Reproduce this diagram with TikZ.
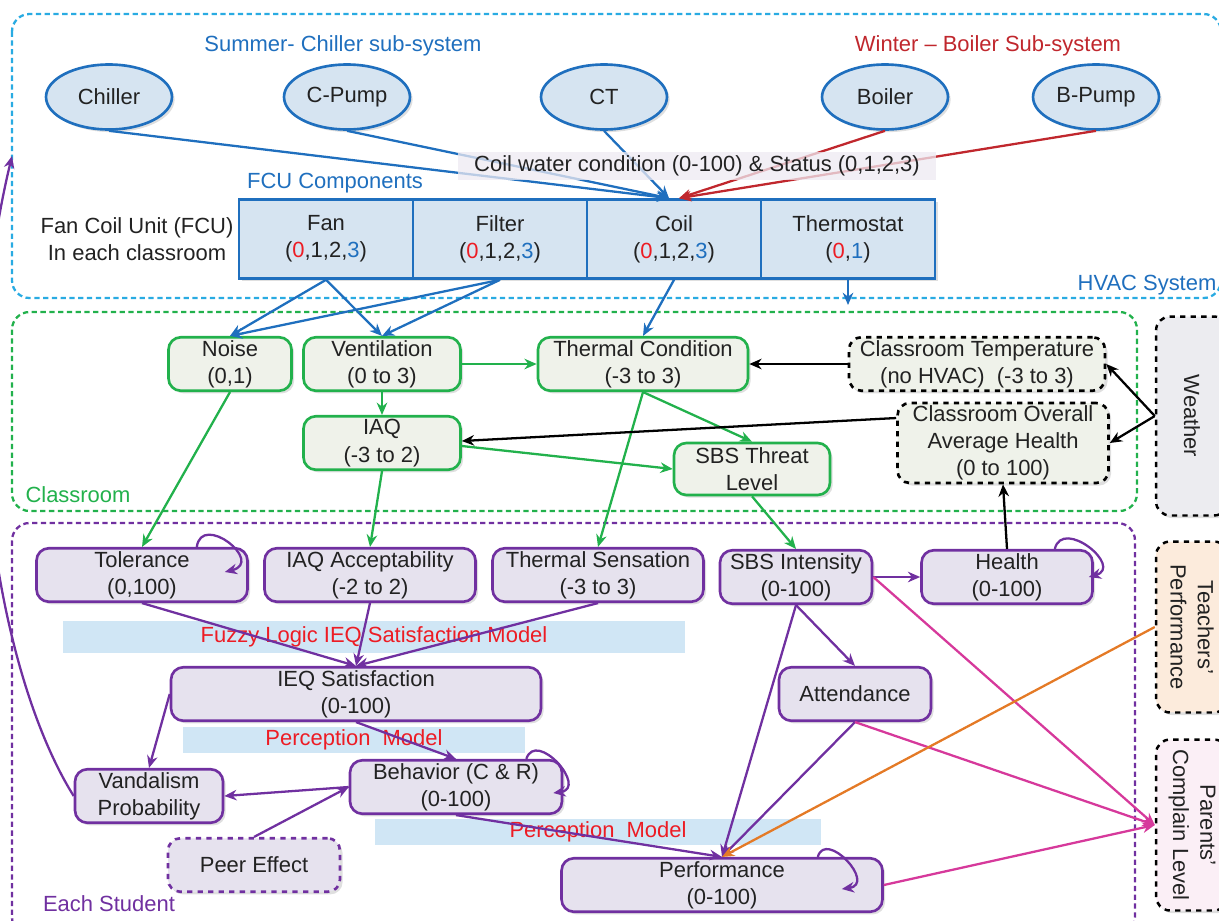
\documentclass[tikz,border=0pt]{standalone}
\usepackage{fontspec}
\setmainfont{Liberation Sans}
\usetikzlibrary{shapes.geometric,arrows.meta,calc,shadows}

\definecolor{hvblue}{RGB}{31,111,190}
\definecolor{hvfill}{RGB}{214,228,241}
\definecolor{hvframe}{RGB}{41,171,226}
\definecolor{wred}{RGB}{192,39,45}
\definecolor{stred}{RGB}{237,28,36}
\definecolor{rmgreen}{RGB}{34,177,76}
\definecolor{rmfill}{RGB}{239,242,234}
\definecolor{stpurple}{RGB}{112,48,160}
\definecolor{stfill}{RGB}{230,226,238}
\definecolor{mgpink}{RGB}{214,57,155}
\definecolor{orline}{RGB}{228,122,38}
\definecolor{lblblue}{RGB}{208,230,245}
\definecolor{coilfill}{RGB}{238,234,242}
\definecolor{wxfill}{RGB}{236,236,240}
\definecolor{tcfill}{RGB}{252,235,220}
\definecolor{pcfill}{RGB}{251,239,246}
\definecolor{textgray}{RGB}{34,34,34}

\newcommand{\stoff}{\textcolor{stred}{0}}
\newcommand{\sttop}[1]{\textcolor{hvblue}{#1}}

\begin{document}
\begin{tikzpicture}[
      x=0.02cm, y=-0.02cm,
      >={Stealth[length=7pt,width=6pt]},
      every node/.style={font=\fontsize{12.5}{15.5}\selectfont, align=center, text=textgray},
      softshadow/.style={drop shadow={shadow xshift=1.5pt, shadow yshift=-1.5pt, opacity=0.25, fill=black!50}},
      hvacpart/.style={ellipse, draw=hvblue, line width=1.5pt, fill=hvfill, minimum width=2.52cm, minimum height=1.3cm, inner sep=0pt, softshadow},
      fcupart/.style={rectangle, draw=hvblue, line width=1.5pt, fill=hvfill, minimum width=3.48cm, minimum height=1.58cm, inner sep=0pt, softshadow},
      roompart/.style={rounded corners=7pt, draw=rmgreen, line width=1.5pt, fill=rmfill, minimum height=1.07cm, inner sep=0pt, softshadow},
      studpart/.style={rounded corners=7pt, draw=stpurple, line width=1.5pt, fill=stfill, minimum height=1.07cm, inner sep=0pt, softshadow},
      sidebox/.style={rounded corners=8pt, draw=black, dashed, line width=1.4pt, minimum height=1.44cm, inner sep=0pt, rotate=-90, softshadow},
      modelbar/.style={fill=lblblue, text=stred, minimum height=0.52cm, inner sep=0pt},
      frame/.style={rounded corners=10pt, line width=1.3pt, dash pattern=on 3pt off 2pt},
      hvline/.style={->, line width=1.3pt, draw=hvblue},
      rdline/.style={->, line width=1.3pt, draw=wred},
      gnline/.style={->, line width=1.3pt, draw=rmgreen},
      bkline/.style={->, line width=1.3pt, draw=black},
      puline/.style={->, line width=1.3pt, draw=stpurple},
      mgline/.style={->, line width=1.3pt, draw=mgpink},
      orarrow/.style={->, line width=1.3pt, draw=orline}
    ]
      \useasboundingbox (0,0) rectangle (1219,920);

      \draw[frame, draw=hvframe] (12,14) rectangle (1221,298);
      \draw[frame, draw=rmgreen] (12,312) rectangle (1137,511);
      \draw[frame, draw=stpurple] (12,523) rectangle (1135,935);
      \node[text=hvblue] (hvaclabel) at (1147,285) {HVAC System};
      \node[text=rmgreen] (roomlabel) at (78,495) {Classroom};
      \node[text=stpurple] (studlabel) at (109,904) {Each Student};

      \node[text=hvblue] (summer) at (343,46) {Summer- Chiller sub-system};
      \node[text=wred] (winter) at (988,46) {Winter – Boiler Sub-system};
      \node[hvacpart] (chiller) at (109,97) {Chiller};
      \node[hvacpart] (cpump) at (347,97) {C-Pump};
      \node[hvacpart] (ct) at (604,97) {CT};
      \node[hvacpart] (boiler) at (885,97) {Boiler};
      \node[hvacpart] (bpump) at (1096,97) {B-Pump};

      \node[text=hvblue] (fcucomp) at (335,183) {FCU Components};
      \node (fcuunit) at (137,239) {Fan Coil Unit (FCU)\\In each classroom};
      \node[fcupart] (fan) at (326,239) {Fan\\(\stoff,1,2,\sttop{3})};
      \node[fcupart] (filter) at (500,239) {Filter\\(\stoff,1,2,\sttop{3})};
      \node[fcupart] (coil) at (674,239) {Coil\\(\stoff,1,2,\sttop{3})};
      \node[fcupart] (thermostat) at (848,239) {Thermostat\\(\stoff,\sttop{1})};
      \coordinate (thermout) at (848,305);

      \node[roompart, minimum width=2.46cm] (noise) at (230,364) {Noise\\(0,1)};
      \node[roompart, minimum width=3.14cm] (vent) at (382,364) {Ventilation\\(0 to 3)};
      \node[roompart, minimum width=4.2cm] (thermal) at (643,364) {Thermal Condition\\(-3 to 3)};
      \node[roompart, minimum width=3.14cm] (iaq) at (382,443) {IAQ\\(-3 to 2)};
      \node[roompart, minimum width=3.12cm, minimum height=1.04cm] (sbsthreat) at (752,469) {SBS Threat\\Level};
      \node[roompart, dashed, draw=black, minimum width=5.12cm] (roomtemp) at (977,364) {Classroom Temperature\\(no HVAC)~~(-3 to 3)};
      \node[roompart, dashed, draw=black, minimum width=4.22cm, minimum height=1.6cm] (roomhealth) at (1003,443) {Classroom Overall\\Average Health\\(0 to 100)};

      \node[sidebox, fill=wxfill, minimum width=3.98cm] (weather) at (1192,416) {Weather};
      \node[sidebox, fill=tcfill, minimum width=3.42cm] (teachers) at (1192,627) {Teachers’\\Performance};
      \node[sidebox, fill=pcfill, minimum width=3.42cm] (parents) at (1192,825) {Parents’\\Complain Level};

      \node[modelbar, minimum width=12.46cm, minimum height=0.64cm] (fuzzy) at (374,637) {Fuzzy Logic IEQ Satisfaction Model};
      \node[modelbar, minimum width=6.86cm] (percA) at (354,740) {Perception~~Model};
      \node[modelbar, minimum width=8.92cm] (percB) at (598,832) {Perception~~Model};

      \node[studpart, minimum width=4.22cm] (tolerance) at (142,575) {Tolerance\\(0,100)};
      \node[studpart, minimum width=4.22cm] (iaqacc) at (370,575) {IAQ Acceptability\\(-2 to 2)};
      \node[studpart, minimum width=4.22cm] (thsens) at (598,575) {Thermal Sensation\\(-3 to 3)};
      \node[studpart, minimum width=3.04cm] (sbsint) at (796,577) {SBS Intensity\\(0-100)};
      \node[studpart, minimum width=3.42cm] (health) at (1007,577) {Health\\(0-100)};
      \node[studpart, minimum width=7.4cm] (ieq) at (356,694) {IEQ Satisfaction\\(0-100)};
      \node[studpart, minimum width=3.04cm] (attend) at (855,694) {Attendance};
      \node[studpart, minimum width=2.96cm] (vandal) at (149,796) {Vandalism\\Probability};
      \node[studpart, minimum width=4.24cm] (behavior) at (456,787) {Behavior (C \& R)\\(0-100)};
      \node[studpart, dashed, minimum width=3.44cm] (peer) at (254,865) {Peer Effect};
      \node[studpart, minimum width=6.42cm] (perform) at (722,885) {Performance\\(0-100)};
      \coordinate (hvacin) at (12,156);

      \draw[hvline] (chiller.south) -- ([xshift=-0.1cm]coil.north);
      \draw[hvline] (cpump.south) -- ([xshift=-0.1cm]coil.north);
      \draw[hvline] (ct.south) -- ([xshift=-0.1cm]coil.north);
      \draw[rdline] (boiler.south) -- ([xshift=0.1cm]coil.north);
      \draw[rdline] (bpump.south) -- ([xshift=0.1cm]coil.north);
      \node[fill=coilfill, fill opacity=0.75, text opacity=1, minimum width=9.56cm, minimum height=0.56cm, inner sep=0pt] (coilwater) at (697,166) {Coil water condition (0-100) \& Status (0,1,2,3)};

      \draw[hvline] (fan.south) -- (noise.north);
      \draw[hvline] (fan.south) -- (vent.north);
      \draw[hvline] (filter.south) -- (noise.north);
      \draw[hvline] (filter.south) -- (vent.north);
      \draw[hvline] (coil.south) -- (thermal.north);
      \draw[hvline] (thermostat.south) -- (thermout);

      \draw[gnline] (vent.east) -- (thermal.west);
      \draw[gnline] (vent.south) -- (iaq.north);
      \draw[gnline] (thermal.south) -- (sbsthreat.north);
      \draw[gnline] ([yshift=-0.06cm]iaq.east) -- (sbsthreat.west);
      \draw[gnline] (noise.south) -- (tolerance.north);
      \draw[gnline] (iaq.south) -- (iaqacc.north);
      \draw[gnline] (thermal.south) -- (thsens.north);
      \draw[gnline] (sbsthreat.south) -- (sbsint.north);

      \draw[bkline] (roomtemp.west) -- (thermal.east);
      \draw[bkline] ([yshift=0.5cm]roomhealth.west) -- ([yshift=0.04cm]iaq.east);
      \draw[bkline] (weather.south) -- (roomtemp.east);
      \draw[bkline] (weather.south) -- (roomhealth.east);
      \draw[bkline] (health.north) -- (roomhealth.south);

      \draw[puline] (tolerance.south) -- (ieq.north);
      \draw[puline] (iaqacc.south) -- (ieq.north);
      \draw[puline] (thsens.south) -- (ieq.north);
      \draw[puline] (ieq.west) -- (vandal.north);
      \draw[puline] (ieq.south) -- (behavior.north);
      \draw[puline] (behavior.west) -- (vandal.east);
      \draw[puline] (peer.north) -- (behavior.west);
      \draw[puline] (behavior.south) -- (perform.north);
      \draw[puline] (sbsint.east) -- (health.west);
      \draw[puline] (sbsint.south) -- (attend.north);
      \draw[puline] (sbsint.south) -- (perform.north);
      \draw[puline] (attend.south) -- (perform.north);
      \draw[puline] (vandal.west) .. controls +(-75,-120) and +(-60,250) .. (hvacin);

      \draw[puline] ($(tolerance.north east)+(-52,0)$) .. controls +(5,-35) and +(40,-10) .. ($(tolerance.east)+(-24,-3)$);
      \draw[puline] ($(behavior.north east)+(-37,0)$) .. controls +(10,-30) and +(35,-5) .. ($(behavior.east)+(-10,6)$);
      \draw[puline] ($(health.north east)+(-39,0)$) .. controls +(8,-32) and +(35,-10) .. ($(health.east)+(-5,0)$);
      \draw[puline] ($(perform.north east)+(-66,0)$) .. controls +(8,-28) and +(35,-5) .. ($(perform.east)+(-42,4)$);

      \draw[mgline] (sbsint.east) -- (parents.south);
      \draw[mgline] (attend.south) -- (parents.south);
      \draw[mgline] (perform.east) -- (parents.south);
      \draw[orarrow] (teachers.south) -- (perform.north);
    \end{tikzpicture}
\end{document}
